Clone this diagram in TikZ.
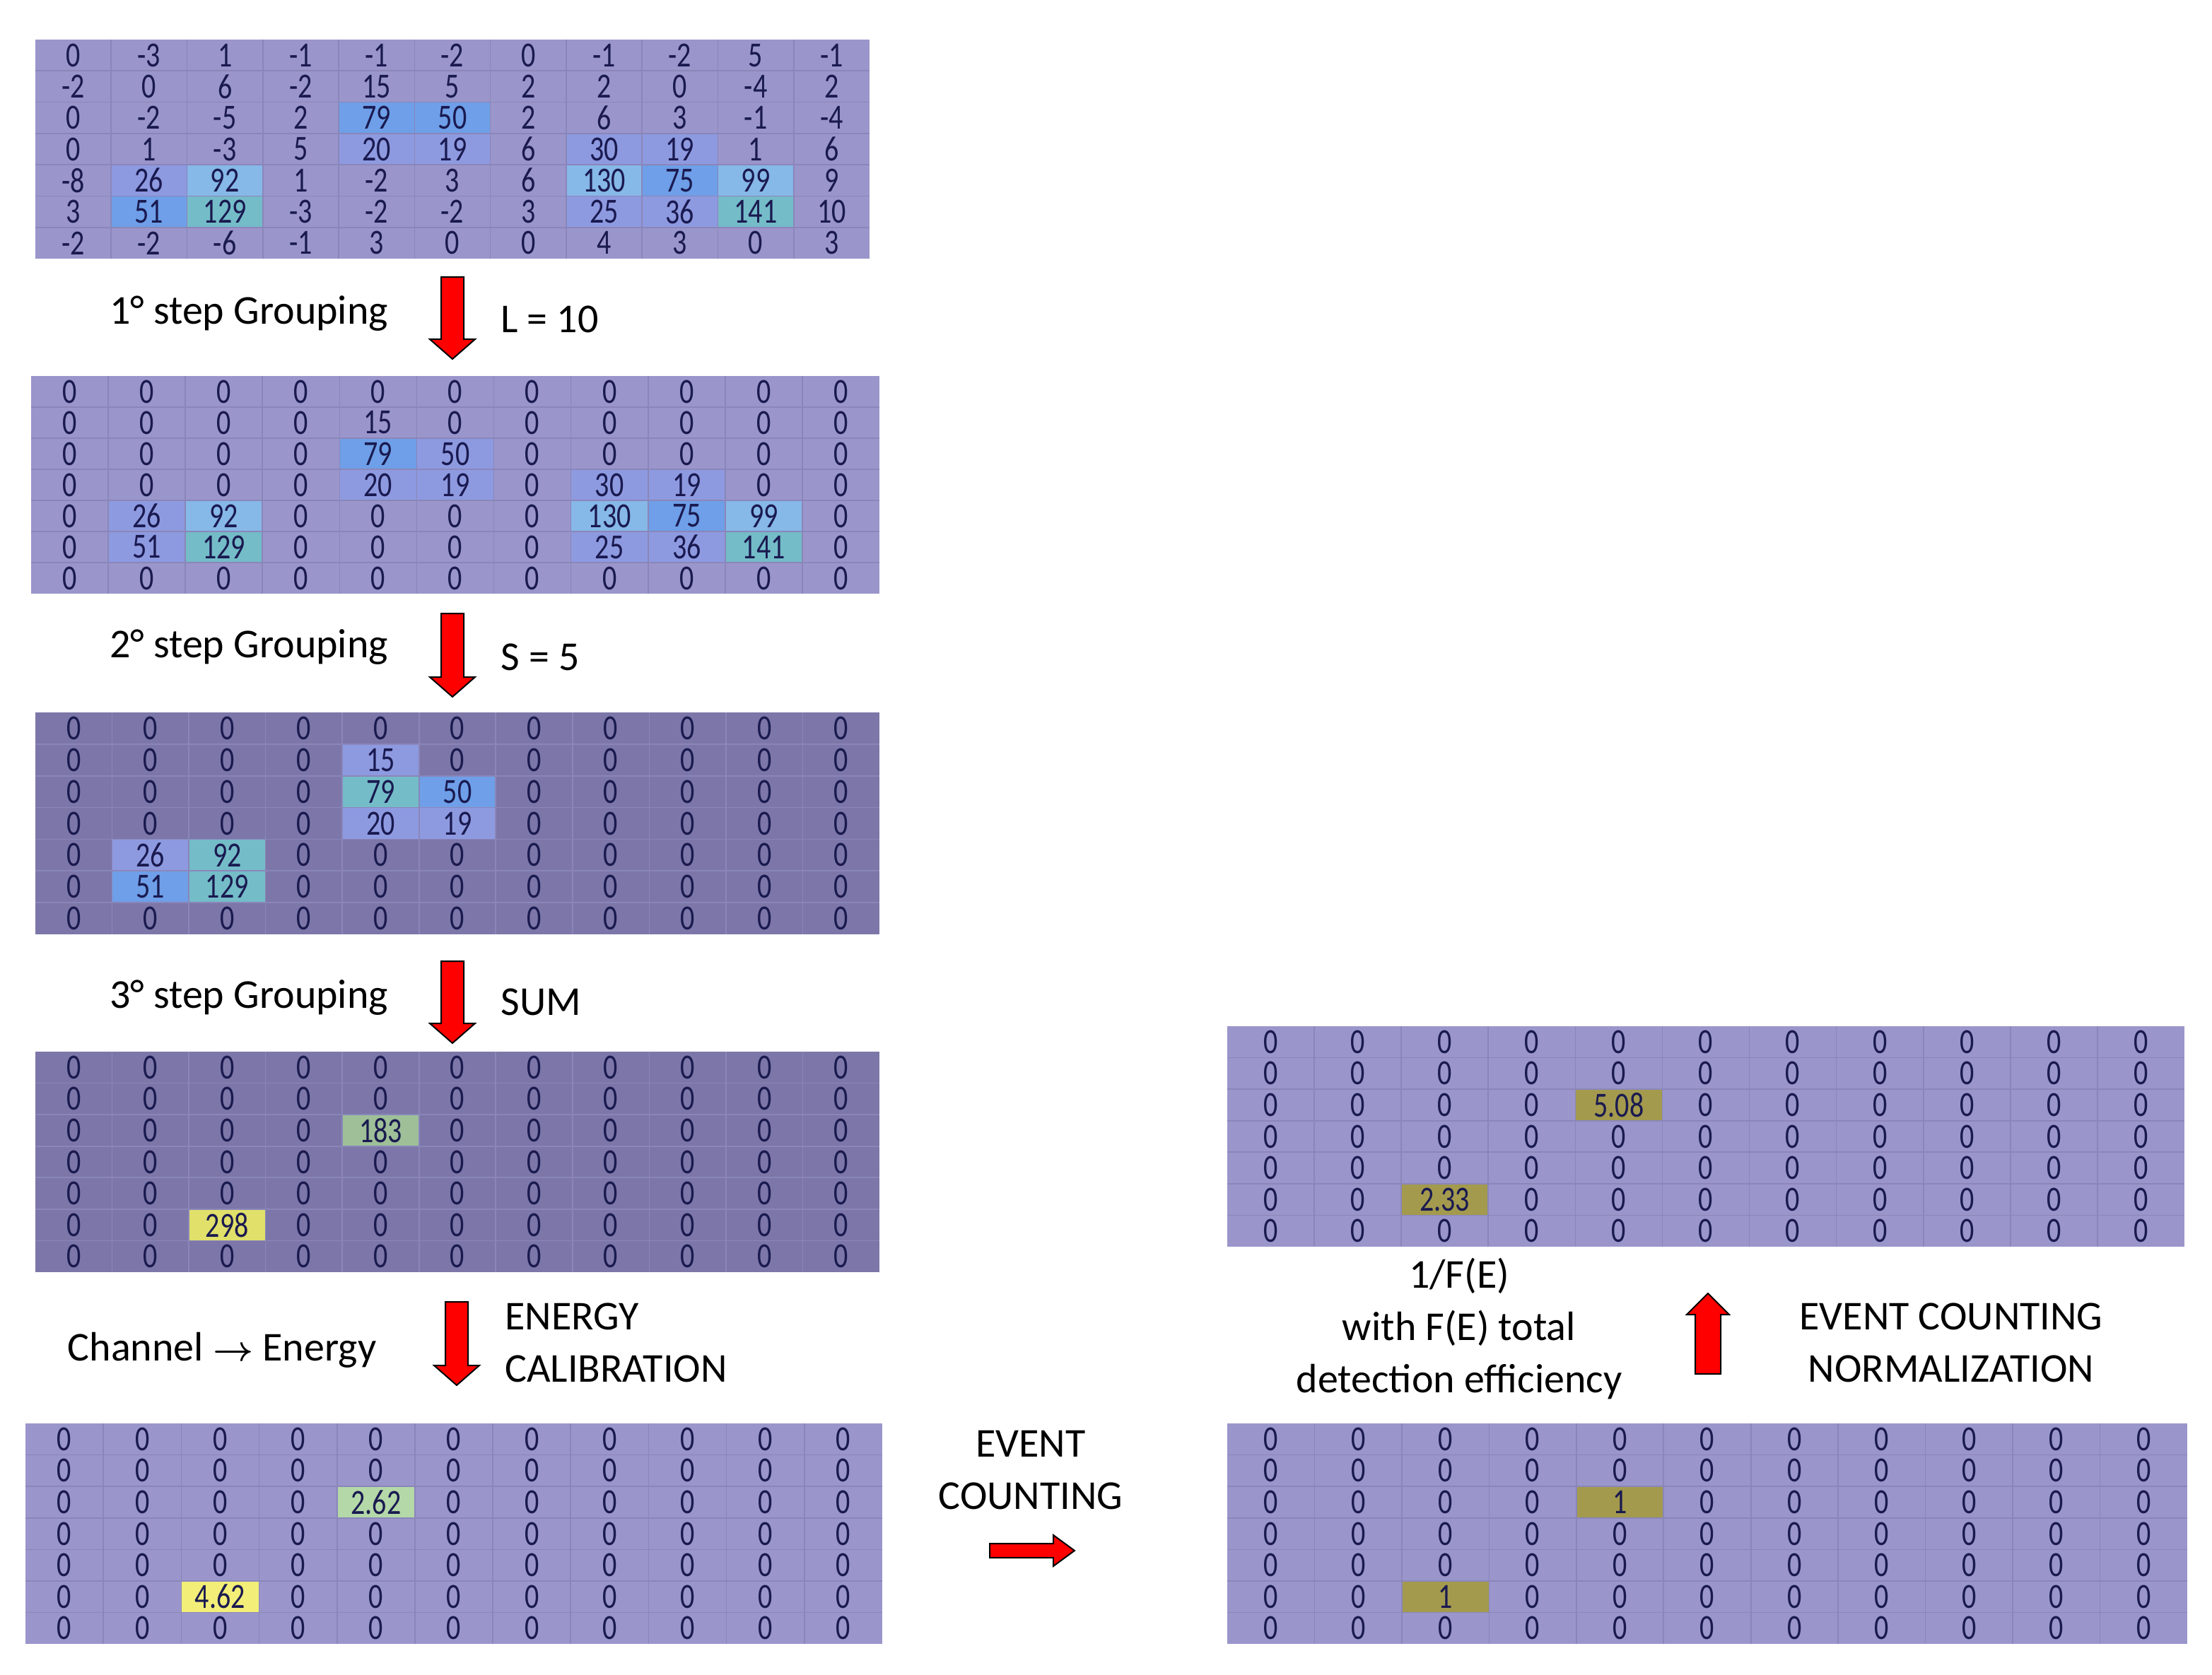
\documentclass[tikz,border=0pt]{standalone}
\usepackage{fontspec}
\setmainfont{Carlito}
\usepackage{graphicx}
\definecolor{bgA}{HTML}{9A96CB}
\definecolor{bgB}{HTML}{7C77A8}
\definecolor{glA}{HTML}{8A86BA}
\definecolor{hB}{HTML}{6E9FE8}
\definecolor{hLB}{HTML}{86B8E8}
\definecolor{hP}{HTML}{8E9AE0}
\definecolor{hC}{HTML}{74BCC8}
\definecolor{hG}{HTML}{9EBF98}
\definecolor{hY}{HTML}{E0E06A}
\definecolor{hLG}{HTML}{B4D8A8}
\definecolor{hLY}{HTML}{F2EE78}
\definecolor{hO}{HTML}{A39A4E}
\definecolor{numc}{HTML}{1A1A50}
\begin{document}
\begin{tikzpicture}[x=1pt,y=1pt,
  num/.style={inner sep=0pt,text=numc,font=\fontsize{25}{25}\selectfont},
  gl/.style={draw=glA,line width=0.8pt},
  lbl/.style={inner sep=0pt,font=\fontsize{29}{37}\selectfont,align=center},
  arr/.style={fill=red,draw=black,line width=1pt}]
\useasboundingbox (0,0) rectangle (1564.5,-1185);
\newcommand\gset[4]{\pgfmathsetmacro\gx{#1}\pgfmathsetmacro\gy{#2}\pgfmathsetmacro\cw{(#3-#1)/11}\pgfmathsetmacro\ch{(#4-#2)/7}}
\newcommand\gbg[1]{\fill[#1] (\gx,-\gy) rectangle ++(11*\cw,-7*\ch);}
\newcommand\hl[3]{\fill[#3] ({\gx+(#1-1)*\cw},{-\gy-(#2-1)*\ch}) rectangle ++(\cw,-\ch);}
\newcommand\glines{\foreach \i in {1,...,10} {\draw[gl] ({\gx+\i*\cw},-\gy) -- ++(0,-7*\ch);}
  \foreach \j in {1,...,6} {\draw[gl] (\gx,{-\gy-\j*\ch}) -- ++(11*\cw,0);}}
\newcommand\gnums[1]{\foreach \row [count=\r] in {#1} {\foreach \v [count=\c] in \row {\node[num] at ({\gx+(\c-0.5)*\cw},{-\gy-(\r-0.5)*\ch}) {\scalebox{0.8}[1]{\v}};}}}
\newcommand\darrow[3]{\filldraw[arr] (#1-8,-#2) -- (#1+8,-#2) -- (#1+8,-#3+14) -- (#1+16,-#3+14) -- (#1,-#3) -- (#1-16,-#3+14) -- (#1-8,-#3+14) -- cycle;}
% G1
\gset{25}{28}{615}{183}\gbg{bgA}
\hl{5}{3}{hB}\hl{6}{3}{hB}\hl{8}{4}{hP}\hl{9}{4}{hP}\hl{5}{4}{hP}\hl{6}{4}{hP}
\hl{2}{5}{hP}\hl{3}{5}{hLB}\hl{2}{6}{hB}\hl{3}{6}{hC}
\hl{8}{5}{hLB}\hl{9}{5}{hB}\hl{10}{5}{hLB}\hl{8}{6}{hP}\hl{9}{6}{hP}\hl{10}{6}{hC}
\glines
\gnums{{0,-3,1,-1,-1,-2,0,-1,-2,5,-1},{-2,0,6,-2,15,5,2,2,0,-4,2},{0,-2,-5,2,79,50,2,6,3,-1,-4},{0,1,-3,5,20,19,6,30,19,1,6},{-8,26,92,1,-2,3,6,130,75,99,9},{3,51,129,-3,-2,-2,3,25,36,141,10},{-2,-2,-6,-1,3,0,0,4,3,0,3}}
% G2
\gset{22}{266}{622}{420}\gbg{bgA}
\hl{5}{3}{hB}\hl{6}{3}{hP}\hl{8}{4}{hP}\hl{9}{4}{hP}\hl{5}{4}{hP}\hl{6}{4}{hP}
\hl{2}{5}{hP}\hl{3}{5}{hLB}\hl{2}{6}{hP}\hl{3}{6}{hC}
\hl{8}{5}{hLB}\hl{9}{5}{hB}\hl{10}{5}{hLB}\hl{8}{6}{hP}\hl{9}{6}{hP}\hl{10}{6}{hC}
\glines
\gnums{{0,0,0,0,0,0,0,0,0,0,0},{0,0,0,0,15,0,0,0,0,0,0},{0,0,0,0,79,50,0,0,0,0,0},{0,0,0,0,20,19,0,30,19,0,0},{0,26,92,0,0,0,0,130,75,99,0},{0,51,129,0,0,0,0,25,36,141,0},{0,0,0,0,0,0,0,0,0,0,0}}
% G3
\gset{25}{504}{622}{661}\gbg{bgB}
\hl{5}{2}{hP}\hl{5}{3}{hC}\hl{6}{3}{hB}\hl{5}{4}{hP}\hl{6}{4}{hP}
\hl{2}{5}{hP}\hl{3}{5}{hC}\hl{2}{6}{hB}\hl{3}{6}{hC}
\glines
\gnums{{0,0,0,0,0,0,0,0,0,0,0},{0,0,0,0,15,0,0,0,0,0,0},{0,0,0,0,79,50,0,0,0,0,0},{0,0,0,0,20,19,0,0,0,0,0},{0,26,92,0,0,0,0,0,0,0,0},{0,51,129,0,0,0,0,0,0,0,0},{0,0,0,0,0,0,0,0,0,0,0}}
% G4
\gset{25}{744}{622}{900}\gbg{bgB}
\hl{5}{3}{hG}\hl{3}{6}{hY}
\glines
\gnums{{0,0,0,0,0,0,0,0,0,0,0},{0,0,0,0,0,0,0,0,0,0,0},{0,0,0,0,183,0,0,0,0,0,0},{0,0,0,0,0,0,0,0,0,0,0},{0,0,0,0,0,0,0,0,0,0,0},{0,0,298,0,0,0,0,0,0,0,0},{0,0,0,0,0,0,0,0,0,0,0}}
% G5
\gset{18}{1007}{624}{1163}\gbg{bgA}
\hl{5}{3}{hLG}\hl{3}{6}{hLY}
\glines
\gnums{{0,0,0,0,0,0,0,0,0,0,0},{0,0,0,0,0,0,0,0,0,0,0},{0,0,0,0,2.62,0,0,0,0,0,0},{0,0,0,0,0,0,0,0,0,0,0},{0,0,0,0,0,0,0,0,0,0,0},{0,0,4.62,0,0,0,0,0,0,0,0},{0,0,0,0,0,0,0,0,0,0,0}}
% G6
\gset{868}{726}{1545}{882}\gbg{bgA}
\hl{5}{3}{hO}\hl{3}{6}{hO}
\glines
\gnums{{0,0,0,0,0,0,0,0,0,0,0},{0,0,0,0,0,0,0,0,0,0,0},{0,0,0,0,5.08,0,0,0,0,0,0},{0,0,0,0,0,0,0,0,0,0,0},{0,0,0,0,0,0,0,0,0,0,0},{0,0,2.33,0,0,0,0,0,0,0,0},{0,0,0,0,0,0,0,0,0,0,0}}
% G7
\gset{868}{1007}{1547}{1163}\gbg{bgA}
\hl{5}{3}{hO}\hl{3}{6}{hO}
\glines
\gnums{{0,0,0,0,0,0,0,0,0,0,0},{0,0,0,0,0,0,0,0,0,0,0},{0,0,0,0,1,0,0,0,0,0,0},{0,0,0,0,0,0,0,0,0,0,0},{0,0,0,0,0,0,0,0,0,0,0},{0,0,1,0,0,0,0,0,0,0,0},{0,0,0,0,0,0,0,0,0,0,0}}
% arrows
\darrow{320}{196}{254}
\darrow{320}{434}{493}
\darrow{320}{680}{738}
\darrow{323}{921}{980}
\filldraw[arr] (700,-1092) -- (745,-1092) -- (745,-1086) -- (760,-1097) -- (745,-1108) -- (745,-1102) -- (700,-1102) -- cycle;
\filldraw[arr] (1199,-972) -- (1199,-930) -- (1193,-930) -- (1208,-915) -- (1223,-930) -- (1217,-930) -- (1217,-972) -- cycle;
% labels
\node[lbl] (l1) at (176,-222) {1° step Grouping};
\node[lbl,anchor=west] (l1b) at (354,-226) {L = 10};
\node[lbl] (l2) at (176,-458) {2° step Grouping};
\node[lbl,anchor=west] (l2b) at (354,-465) {S = 5};
\node[lbl] (l3) at (176,-706) {3° step Grouping};
\node[lbl,anchor=west] (l3b) at (354,-709) {SUM};
\node[lbl] (l4) at (157,-955) {Channel {\boldmath$\rightarrow$} Energy};
\node[lbl,anchor=west,align=left] (l4b) at (357,-950) {ENERGY\\CALIBRATION};
\node[lbl] (l5) at (729,-1040) {EVENT\\COUNTING};
\node[lbl] (l6) at (1032,-940) {1/F(E)\\with F(E) total\\detection efficiency};
\node[lbl] (l7) at (1380,-950) {EVENT COUNTING\\NORMALIZATION};
\end{tikzpicture}
\end{document}
